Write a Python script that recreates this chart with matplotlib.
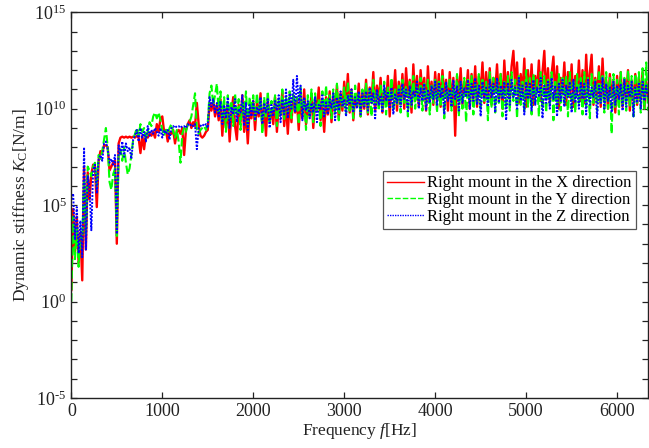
import numpy as np
import matplotlib
matplotlib.use("Agg")
import matplotlib.pyplot as plt
from matplotlib.ticker import FixedLocator, FuncFormatter, NullLocator, NullFormatter

plt.rcParams["font.family"] = ["Liberation Serif", "DejaVu Serif"]
plt.rcParams["mathtext.fontset"] = "custom"
plt.rcParams["mathtext.rm"] = "Liberation Serif"
plt.rcParams["mathtext.it"] = "Liberation Serif:italic"
plt.rcParams["mathtext.bf"] = "Liberation Serif:bold"
plt.rcParams["axes.unicode_minus"] = False

# Frequency axis of the measured spectra [Hz], 20 Hz resolution
freq_hz = np.arange(0, 6341, 20)

# log10 of dynamic stiffness [N/m], right mount, X direction
kx_log10 = [
    0.6, 4.8, 2.6, 4.4, 2.0, 3.6, 1.1, 7.0, 2.7, 6.7,
    5.3, 6.6, 7.1, 7.0, 4.9, 7.3, 7.8, 7.7, 8.1, 8.1,
    8.0, 6.8, 7.0, 7.2, 7.3, 3.0, 8.2, 8.5, 8.55, 8.5,
    8.55, 8.5, 8.55, 8.5, 8.55, 8.5, 8.6, 8.5, 7.7, 8.6,
    7.9, 8.7, 8.5, 8.7, 8.6, 8.8, 8.5, 9.2, 8.8, 9.5,
    9.6, 8.8, 8.9, 8.3, 8.8, 8.7, 8.9, 8.2, 8.8, 8.9,
    8.7, 9.0, 7.6, 8.9, 9.2, 9.4, 9.0, 9.3, 9.1, 10.3,
    9.2, 8.6, 8.5, 8.6, 8.8, 8.9, 10.3, 9.9, 10.4, 9.6,
    10.2,
    9.4, 10.5, 8.6, 10.1, 9.0, 10.3, 8.3, 9.8, 10.6, 9.1,
    8.4, 10.2, 9.3, 10.7, 8.8, 9.9, 8.2, 10.0, 9.5, 10.4,
    8.9, 10.3, 9.6, 10.8, 9.0, 10.1, 8.6, 10.5, 9.4, 10.0,
    9.2, 10.6, 8.8, 10.2, 9.7, 10.9, 9.1, 10.3, 8.7, 10.4,
    9.3, 10.7, 9.8, 10.4, 8.9, 10.6, 9.5, 11.0, 9.2, 10.3,
    9.6, 10.8, 9.0, 10.5, 9.9, 11.1, 9.4, 10.2, 8.8, 10.6,
    9.7, 10.9, 9.3, 10.6, 10.0, 11.2, 9.5, 10.8, 9.9, 11.4,
    10.2, 11.8, 9.8, 11.0, 9.4, 10.7, 10.1, 11.3, 9.6, 10.9,
    10.0, 11.5, 9.7, 11.1, 10.3, 11.9, 9.9, 11.2, 10.4, 11.6,
    9.8, 11.0, 10.2, 11.7, 9.6, 11.3, 10.5, 12.0, 9.9, 11.4,
    10.3, 11.8, 10.0, 12.1, 10.6, 11.5, 9.8, 12.3, 10.4, 11.7,
    10.1, 12.0, 10.7, 11.6, 9.9, 12.2, 10.5, 11.4, 10.2, 11.9,
    10.4, 11.8, 10.1, 12.0, 10.6, 11.5, 9.9, 11.9, 10.3, 11.6,
    8.6, 11.7, 10.5, 12.1, 10.2, 11.4, 10.7, 12.0, 10.0, 11.8,
    10.5, 12.2, 10.1, 11.7, 10.8, 12.4, 10.3, 11.9, 10.6, 12.1,
    10.2, 11.6, 10.9, 12.3, 10.4, 11.8, 10.0, 12.5, 10.7, 11.9,
    10.5, 12.2, 13.0, 11.0, 12.4, 10.3, 11.8, 10.8, 12.6, 10.1,
    12.0, 10.6, 12.3, 10.2, 11.7, 10.9, 12.5, 10.4, 11.9, 13.0,
    10.6, 12.1, 10.3, 11.8, 12.7, 10.5, 12.2, 10.0, 11.6, 10.8,
    12.4, 10.2, 11.9, 10.6, 12.3, 10.1, 11.7, 10.7, 12.5, 10.4,
    12.0, 10.3, 12.8, 10.7, 11.9, 12.8, 10.2, 11.6, 10.6, 12.2,
    10.1, 12.6, 10.5, 11.5, 10.0, 11.8, 10.6, 11.4, 9.8, 11.7,
    10.3, 11.9, 10.1, 11.5, 10.6, 12.0, 9.9, 11.3, 10.4, 11.8,
    10.2, 11.6, 10.5, 11.9, 10.0, 11.4, 10.7,
]

# log10 of dynamic stiffness [N/m], right mount, Y direction
ky_log10 = [
    0.0, 4.4, 2.2, 3.9, 1.8, 3.4, 3.2, 6.3, 3.5, 7.0,
    6.8, 6.5, 7.0, 7.2, 6.0, 7.6, 7.4, 7.8, 8.4, 9.0,
    8.0, 6.2, 5.8, 6.6, 6.9, 3.4, 7.6, 7.9, 7.3, 8.0,
    7.2, 6.6, 6.9, 7.6, 8.4, 8.7, 9.0, 8.6, 9.2, 8.8,
    9.0, 8.4, 8.8, 9.3, 9.1, 9.6, 9.8, 9.5, 9.8, 9.4,
    8.9, 8.6, 8.9, 8.7, 9.0, 9.2, 8.8, 8.5, 8.9, 8.3,
    7.2, 8.7, 9.0, 8.8, 9.2, 9.3, 9.6, 10.2, 10.8, 8.9,
    8.7, 8.9, 9.0, 9.1, 8.9, 9.3, 10.8, 11.2, 10.2, 10.7,
    11.3,
    9.8, 10.9, 9.3, 10.6, 8.8, 10.7, 9.5, 10.4, 9.1, 10.8,
    9.6, 10.5, 8.9, 10.3, 9.7, 10.9, 9.2, 10.6, 9.9, 10.7,
    9.4, 10.8, 9.8, 10.5, 8.7, 10.6, 9.6, 10.9, 9.3, 10.4,
    9.9, 10.7, 9.1, 10.5, 9.7, 11.0, 9.4, 10.6, 9.8, 10.9,
    9.5, 10.8, 9.9, 10.6, 9.2, 11.1, 9.7, 10.5, 8.9, 10.7,
    9.6, 11.0, 9.3, 10.8, 9.8, 10.5, 9.1, 10.9, 9.7, 11.2,
    10.0, 10.7, 9.5, 11.0, 9.8, 11.3, 9.4, 10.8, 10.1, 11.1,
    9.7, 11.4, 9.9, 10.9, 9.5, 11.2, 10.2, 10.8, 9.6, 11.0,
    10.1, 11.3, 9.8, 11.0, 9.6, 11.5, 10.3, 10.9, 9.9, 11.2,
    10.0, 11.4, 9.7, 11.1, 10.4, 11.6, 9.9, 11.0, 10.2, 11.3,
    9.8, 11.5, 10.3, 11.2, 9.6, 11.4, 10.1, 11.7, 10.0, 11.1,
    10.4, 11.6, 9.9, 11.3, 10.2, 11.5, 9.7, 11.2, 10.3, 11.6,
    9.8, 11.4, 10.1, 11.7, 9.5, 11.3, 10.4, 11.6, 9.9, 11.2,
    10.2, 11.8, 9.6, 11.4, 10.0, 11.6, 9.3, 11.5, 10.3, 11.7,
    9.7, 11.3, 10.2, 11.8, 9.9, 11.5, 10.4, 11.4, 9.4, 11.9,
    10.1, 11.6, 9.8, 11.5, 10.3, 11.8, 9.6, 11.4, 10.0, 11.7,
    9.9, 11.9, 10.4, 11.5, 9.5, 11.7, 10.2, 11.4, 9.8, 12.0,
    10.1, 11.6, 9.7, 11.8, 10.3, 11.5, 9.6, 11.9, 10.0, 11.7,
    9.8, 11.6, 10.2, 11.9, 9.4, 11.5, 10.1, 11.8, 9.9, 11.6,
    10.3, 11.7, 9.6, 11.9, 10.0, 11.5, 9.8, 11.8, 10.2, 11.6,
    9.7, 11.9, 10.1, 11.6, 9.5, 11.8, 10.3, 11.5, 9.9, 12.0,
    10.2, 11.7, 9.8, 11.9, 10.0, 11.6, 8.7, 11.8, 10.1, 11.5,
    9.7, 11.9, 10.2, 11.6, 9.9, 12.0, 10.1, 11.7, 9.6, 11.8,
    10.3, 11.9, 9.8, 12.1, 10.0, 12.4, 9.9,
]

# log10 of dynamic stiffness [N/m], right mount, Z direction
kz_log10 = [
    5.3, 5.6, 3.2, 4.9, 2.5, 4.2, 2.3, 8.0, 2.7, 6.5,
    5.9, 3.7, 6.8, 7.1, 5.6, 7.4, 7.6, 7.3, 8.2, 8.3,
    7.9, 7.2, 7.4, 7.1, 7.6, 3.5, 8.1, 7.6, 8.3, 7.5,
    8.2, 7.8, 8.0, 7.4, 8.4, 8.6, 8.9, 8.3, 9.0, 8.5,
    8.8, 8.3, 9.1, 8.6, 8.9, 8.7, 9.0, 8.8, 8.6, 9.0,
    8.5, 8.9, 8.7, 8.9, 8.4, 9.0, 9.1, 9.0, 9.1, 9.1,
    9.0, 9.1, 9.1, 9.0, 9.2, 9.1, 9.2, 9.1, 9.2, 7.9,
    9.0, 9.1, 9.2, 9.1, 9.2, 9.0, 10.6, 10.1, 10.5, 9.8,
    10.3,
    9.6, 10.4, 9.2, 10.2, 9.5, 10.6, 9.0, 10.1, 9.7, 10.5,
    9.3, 10.0, 9.8, 10.7, 9.1, 10.3, 8.9, 10.2, 9.6, 10.4,
    9.4, 10.1, 9.7, 10.6, 9.2, 10.3, 9.8, 10.5, 9.0, 10.2,
    9.6, 10.4, 9.9, 10.7, 9.3, 10.5, 9.7, 11.0, 9.5, 10.8,
    10.0, 11.5, 9.8, 11.7, 10.3, 11.2, 9.4, 10.6, 9.9, 10.4,
    9.5, 10.3, 9.8, 10.6, 9.3, 10.2, 10.0, 10.7, 9.6, 10.4,
    9.7, 10.5, 10.0, 10.8, 9.4, 10.6, 9.9, 10.9, 10.1, 10.5,
    9.6, 10.7, 10.2, 11.0, 9.8, 10.6, 10.0, 10.9, 9.7, 10.8,
    10.1, 10.9, 9.9, 11.1, 10.3, 10.8, 9.5, 11.0, 10.2, 10.7,
    9.8, 11.2, 10.4, 10.9, 10.0, 11.1, 9.7, 10.8, 10.3, 11.0,
    10.1, 11.3, 10.5, 11.0, 9.8, 11.2, 10.2, 10.9, 10.6, 11.4,
    10.0, 11.1, 10.4, 11.3, 9.9, 11.0, 10.3, 11.2, 10.5, 11.4,
    10.2, 11.3, 10.6, 11.1, 9.7, 11.4, 10.4, 11.0, 10.1, 11.5,
    10.5, 11.2, 9.9, 11.4, 10.3, 11.1, 10.6, 11.5, 10.0, 11.3,
    10.4, 11.6, 10.2, 11.2, 9.6, 11.4, 10.5, 11.1, 10.1, 11.5,
    10.6, 11.3, 9.8, 11.6, 10.3, 11.2, 10.5, 11.4, 9.4, 11.3,
    10.2, 11.5, 10.6, 11.1, 10.0, 11.6, 10.4, 11.2, 9.7, 11.4,
    10.5, 11.3, 9.9, 11.5, 10.2, 11.1, 10.6, 11.6, 9.5, 11.2,
    10.3, 11.4, 10.0, 11.6, 10.5, 11.2, 9.6, 11.3, 10.4, 11.5,
    10.1, 11.2, 10.6, 11.4, 9.8, 11.5, 10.3, 11.1, 10.0, 11.4,
    10.5, 11.3, 9.7, 11.5, 10.2, 11.1, 10.6, 11.4, 9.5, 11.2,
    10.3, 11.6, 10.0, 11.3, 10.4, 11.1, 9.8, 11.4, 10.2, 11.2,
    10.5, 11.3, 9.9, 11.5, 10.1, 11.2, 10.6, 11.4, 9.6, 11.1,
    10.3, 11.3, 10.0, 11.4, 10.4, 11.2, 10.5,
]

series = [
    ("Right mount in the X direction", kx_log10, "#FF0000", "-", 1.7),
    ("Right mount in the Y direction", ky_log10, "#00FF00", (0, (4, 1.5)), 1.5),
    ("Right mount in the Z direction", kz_log10, "#0000FF", (0, (1, 0.8)), 1.4),
]


def decade_label(value, pos):
    exponent = int(round(np.log10(value)))
    if exponent < 0:
        return r"$10^{\text{-%d}}$" % (-exponent)
    return r"$10^{%d}$" % exponent


fig = plt.figure(figsize=(6.49, 4.48), dpi=100)
ax = fig.add_axes([0.1099, 0.1116, 0.8886, 0.8610])

handles = []
for label, vals, color, ls, lw in series:
    k = 10.0 ** np.asarray(vals, dtype=float)
    ax.semilogy(freq_hz[:len(k)], k, color=color, linestyle=ls,
                linewidth=lw)
    h, = ax.plot([], [], color=color, linestyle=ls, linewidth=1.0, label=label)
    handles.append(h)

ax.set_xlim(0, 6340)
ax.set_ylim(1e-5, 1e15)

ax.xaxis.set_major_locator(FixedLocator([0, 1000, 2000, 3000, 4000, 5000, 6000]))
ax.xaxis.set_minor_locator(NullLocator())
ax.yaxis.set_major_locator(FixedLocator([10.0 ** e for e in range(-5, 16, 5)]))
ax.yaxis.set_minor_locator(FixedLocator([10.0 ** e for e in range(-5, 16)]))
ax.yaxis.set_major_formatter(FuncFormatter(decade_label))
ax.yaxis.set_minor_formatter(NullFormatter())

ax.tick_params(axis="both", which="both", direction="in", top=True, right=True,
               labelsize=13, colors="#222222", length=4, width=0.9)
ax.tick_params(axis="y", which="minor", length=4)
for sp in ax.spines.values():
    sp.set_color("#222222")
    sp.set_linewidth(1.0)

ax.set_xlabel(r"Frequency $f$[Hz]", fontsize=12.5, labelpad=1, color="#222222")
ax.set_ylabel(r"Dynamic stiffness $K_{\mathrm{C}}$[N/m]", fontsize=12.5,
              labelpad=2, color="#222222")

leg = ax.legend(handles=handles, loc="upper right", bbox_to_anchor=(0.979, 0.588),
                fontsize=12, frameon=True, fancybox=False, edgecolor="#555555",
                framealpha=1.0, borderpad=0.25, labelspacing=0.05,
                handlelength=2.2, handletextpad=0.2, borderaxespad=0.0)
leg.get_frame().set_linewidth(0.9)

fig.savefig("out.png", dpi=100)
